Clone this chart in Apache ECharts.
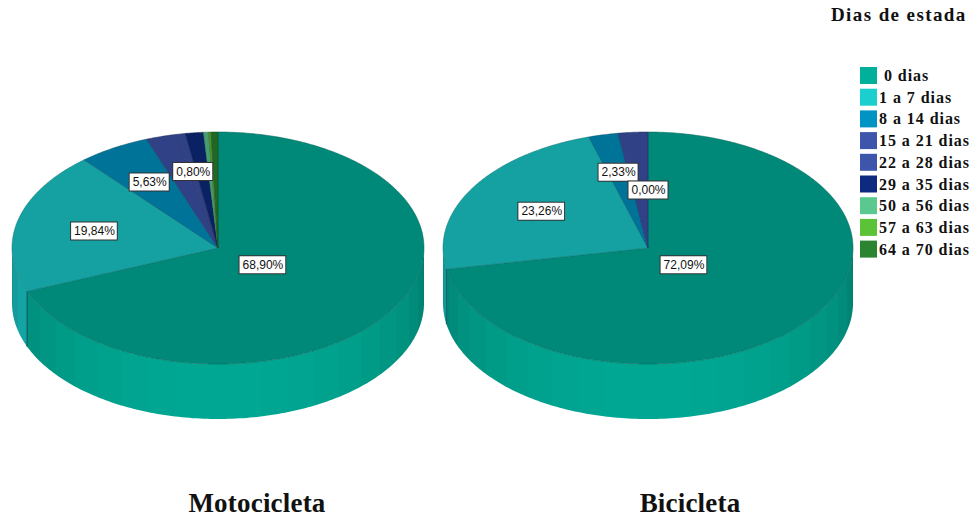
<!DOCTYPE html>
<html>
<head>
<meta charset="utf-8">
<style>
html,body{margin:0;padding:0;background:#fff}
#chart{width:971px;height:519px}
/* Tracking of the serif legend text */
#chart text[style*="Serif"]{letter-spacing:0.95px}
#chart text[style*="27px"]{letter-spacing:0.2px}
#chart text[style*="19px"]{letter-spacing:1.4px}
</style>
<script src="https://cdn.jsdelivr.net/npm/echarts@6/dist/echarts.min.js"></script>
</head>
<body>
<div id="chart"></div>
<script>
// Length of stay by vehicle: percentages per category for each pie.
const categories = ['0 dias', '1 a 7 dias', '8 a 14 dias', '15 a 21 dias', '22 a 28 dias', '29 a 35 dias', '50 a 56 dias', '57 a 63 dias', '64 a 70 dias'];
const vehicles = ['Motocicleta', 'Bicicleta'];
const motocicleta = [68.90, 19.84, 5.63, 2.30, 0.80, 1.40, 0.40, 0.20, 0.53];
const bicicleta = [72.09, 23.26, 2.33, 2.33, 0.00, 0.00, 0.00, 0.00, 0.00];
const labelledCategories = [0, 1, 2, 4];

const swatchColors = ['#00b09a', '#1bcfcf', '#0093c4', '#3d55ab', '#3d55ab', '#0d2a80', '#5bc98f', '#5cc238', '#2a8430'];

// Ellipse geometry of each tilted pie, and how far along the radius its labels sit.
const pieLayout = [
  { cx: 218, cy: 248, rx: 206, ry: 116, depth: 55, labelRadius: [0.26, 0.62, 0.66, 0, 0.67] },
  { cx: 648, cy: 248, rx: 205, ry: 116, depth: 55, labelRadius: [0.225, 0.61, 0.67, 0, 0.5] }
];
const pieValues = [motocicleta, bicicleta];
const SERIF = '"Liberation Serif", "Times New Roman", serif';
const BAND_DEG = 8;

function shade(hex, f) {
  const n = parseInt(hex.slice(1), 16);
  const c = [n >> 16, (n >> 8) & 255, n & 255].map(v => Math.round(v * f));
  return 'rgb(' + c.join(',') + ')';
}
// Clockwise degrees from twelve o'clock to a point on the ellipse rim.
function rim(p, deg, drop) {
  const a = deg * Math.PI / 180;
  return [p.cx + p.rx * Math.sin(a), p.cy - p.ry * Math.cos(a) + (drop || 0)];
}
function sliceAngles(pie, idx) {
  const vals = pieValues[pie];
  const total = vals.reduce((s, v) => s + v, 0);
  const before = vals.slice(0, idx).reduce((s, v) => s + v, 0);
  return [before / total * 360, (before + vals[idx]) / total * 360];
}

// Outer wall of a slice: one shape whose horizontal gradient steps through narrow facets,
// each shaded by how far it faces away from the viewer.
function wallShape(p, start, end, base) {
  const from = Math.max(start, 90), to = Math.min(end, 270);
  if (to <= from) return null;
  const pts = [];
  for (let d = from; d < to; d += 1) pts.push(rim(p, d));
  pts.push(rim(p, to));
  for (let d = to; d > from; d -= 1) pts.push(rim(p, d, p.depth));
  pts.push(rim(p, from, p.depth));

  const xA = rim(p, from)[0], xB = rim(p, to)[0];
  const x0 = Math.min(xA, xB), x1 = Math.max(xA, xB);
  const bands = [];
  let a = from;
  while (a < to) {
    const b = Math.min(to, (Math.floor(a / BAND_DEG) + 1) * BAND_DEG);
    const off = Math.abs((a + b) / 2 - 180) / 90;
    bands.push({ a, b, col: shade(base, 0.95 - 0.25 * off * off) });
    a = b;
  }
  // The ellipse runs right to left while the angle grows.
  const stops = [];
  const at = d => Math.min(1, Math.max(0, (rim(p, d)[0] - x0) / (x1 - x0 || 1)));
  bands.slice().reverse().forEach(s => {
    stops.push({ offset: at(s.b), color: s.col }, { offset: at(s.a), color: s.col });
  });
  return {
    type: 'polygon',
    shape: { points: pts },
    style: { fill: new echarts.graphic.LinearGradient(x0, 0, x1, 0, stops, true) }
  };
}

function renderSlice(params, api) {
  const pie = api.value(0), value = api.value(1);
  if (!value) return null;
  const p = pieLayout[pie];
  const base = swatchColors[params.seriesIndex];
  const [start, end] = sliceAngles(pie, params.seriesIndex);
  const children = [];
  const wall = wallShape(p, start, end, base);
  if (wall) children.push(wall);
  // Dark seam where the slice boundary meets the front wall.
  [start, end].forEach(a => {
    if (a > 90 && a < 270) {
      const t = rim(p, a), b = rim(p, a, p.depth);
      children.push({ type: 'line', shape: { x1: t[0], y1: t[1], x2: b[0], y2: b[1] },
        style: { stroke: shade(base, 0.5), lineWidth: 1 } });
    }
  });
  const pts = [[p.cx, p.cy]];
  for (let d = start; d < end; d += 0.5) pts.push(rim(p, d));
  pts.push(rim(p, end));
  children.push({ type: 'polygon', shape: { points: pts },
    style: { fill: shade(base, 0.78), stroke: shade(base, 0.55), lineWidth: 0.5 } });
  return { type: 'group', children };
}

function renderLabel(params, api) {
  const pie = api.value(0), value = api.value(1);
  const idx = labelledCategories[params.dataIndex % labelledCategories.length];
  const p = pieLayout[pie];
  const [start, end] = sliceAngles(pie, idx);
  const mid = (start + end) / 2 * Math.PI / 180;
  const r = p.labelRadius[idx];
  return {
    type: 'text',
    x: p.cx + p.rx * r * Math.sin(mid),
    y: p.cy - p.ry * r * Math.cos(mid),
    style: {
      text: value.toFixed(2).replace('.', ',') + '%',
      font: '12px "Liberation Sans", Arial, sans-serif',
      fill: '#111',
      align: 'center',
      verticalAlign: 'middle',
      backgroundColor: '#fff',
      borderColor: '#333',
      borderWidth: 1,
      padding: [3, 2, 2, 3]
    }
  };
}

const sliceSeries = categories.map((name, i) => ({
  type: 'custom',
  name,
  coordinateSystem: 'none',
  renderItem: renderSlice,
  itemStyle: { color: swatchColors[i] },
  silent: true,
  z: 2,
  data: [[0, motocicleta[i]], [1, bicicleta[i]]]
}));

const labelData = [];
[motocicleta, bicicleta].forEach((vals, pie) => labelledCategories.forEach(i => labelData.push([pie, vals[i]])));

const chart = echarts.init(document.getElementById('chart'), null, { renderer: 'svg' });
chart.setOption({
  animation: false,
  backgroundColor: '#fff',
  title: [
    { text: 'Dias de estada', left: 831, top: 5, padding: 0, textStyle: { fontFamily: SERIF, fontSize: 19, fontWeight: 'bold', color: '#111' } },
    { text: vehicles[0], left: 257, top: 489, padding: 0, textAlign: 'center', textStyle: { fontFamily: SERIF, fontSize: 27, fontWeight: 'bold', color: '#111' } },
    { text: vehicles[1], left: 690, top: 489, padding: 0, textAlign: 'center', textStyle: { fontFamily: SERIF, fontSize: 27, fontWeight: 'bold', color: '#111' } }
  ],
  legend: {
    orient: 'vertical',
    left: 860,
    top: 67,
    padding: 0,
    itemWidth: 17,
    itemHeight: 17,
    itemGap: 4.7,
    selectedMode: false,
    icon: 'rect',
    formatter: n => n === categories[0] ? ' ' + n : n,
    textStyle: { fontFamily: SERIF, fontSize: 16, fontWeight: 'bold', color: '#111', padding: [5, 0, 0, -3] },
    data: categories
  },
  series: sliceSeries.concat([{
    type: 'custom',
    name: 'Rótulos',
    coordinateSystem: 'none',
    renderItem: renderLabel,
    silent: true,
    z: 5,
    data: labelData
  }])
});
</script>
</body>
</html>
